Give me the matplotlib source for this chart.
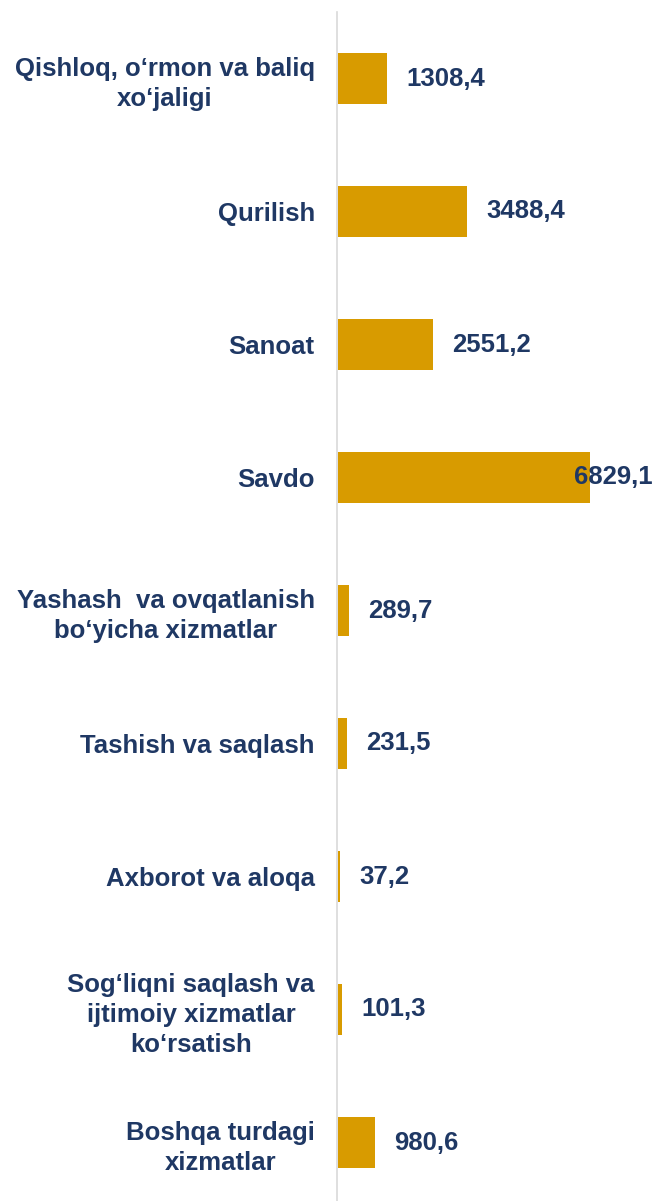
import matplotlib
matplotlib.use("Agg")
import matplotlib.pyplot as plt
import matplotlib.transforms as mtransforms

categories = [
    "Qishloq, o‘rmon va baliq\nxo‘jaligi",
    "Qurilish",
    "Sanoat",
    "Savdo",
    "Yashash  va ovqatlanish\nbo‘yicha xizmatlar",
    "Tashish va saqlash",
    "Axborot va aloqa",
    "Sog‘liqni saqlash va\nijtimoiy xizmatlar\nko‘rsatish",
    "Boshqa turdagi\nxizmatlar",
]
values = [1308.4, 3488.4, 2551.2, 6829.1, 289.7, 231.5, 37.2, 101.3, 980.6]

BAR_COLOR = "#D89B00"
TEXT_COLOR = "#1F3864"
FONT = "Liberation Sans"
FS = 18.5

fig = plt.figure(figsize=(6.54, 12.01), dpi=100)
ax = fig.add_axes([337 / 654, 1 - 1209 / 1201, 317 / 654, 1197 / 1201])

ypos = list(range(len(values)))
ax.barh(ypos, values, height=0.39, color=BAR_COLOR, zorder=3, linewidth=0)
ax.set_ylim(len(values) - 0.5, -0.5)
xmax = 8557
ax.set_xlim(-40, xmax)

ax.set_yticks(ypos)
ax.set_yticklabels(categories)
for lbl in ax.get_yticklabels():
    lbl.set_multialignment("center")
    lbl.set_fontfamily(FONT)
    lbl.set_fontweight("bold")
    lbl.set_fontsize(FS)
    lbl.set_color(TEXT_COLOR)
    lbl.set_linespacing(1.32)
ax.tick_params(axis="y", length=0, pad=16)
ax.set_xticks([])

for s in ["top", "right", "bottom"]:
    ax.spines[s].set_visible(False)
ax.spines["left"].set_color("#D9D9D9")
ax.spines["left"].set_linewidth(1.2)
ax.spines["left"].set_zorder(2)

blend = mtransforms.blended_transform_factory(ax.transAxes, ax.transData)
for i, v in enumerate(values):
    txt = f"{v:.1f}".replace(".", ",")
    kw = dict(fontfamily=FONT, fontweight="bold", fontsize=FS, color=TEXT_COLOR, va="center", zorder=4)
    if v > 0.7 * xmax:
        ax.annotate(txt, xy=(1.0, i), xycoords=blend, xytext=(-1, 0),
                    textcoords="offset points", ha="right", **kw)
    else:
        ax.annotate(txt, xy=(v, i), xytext=(14, 0),
                    textcoords="offset points", ha="left", **kw)

fig.savefig("out.png", dpi=100)
